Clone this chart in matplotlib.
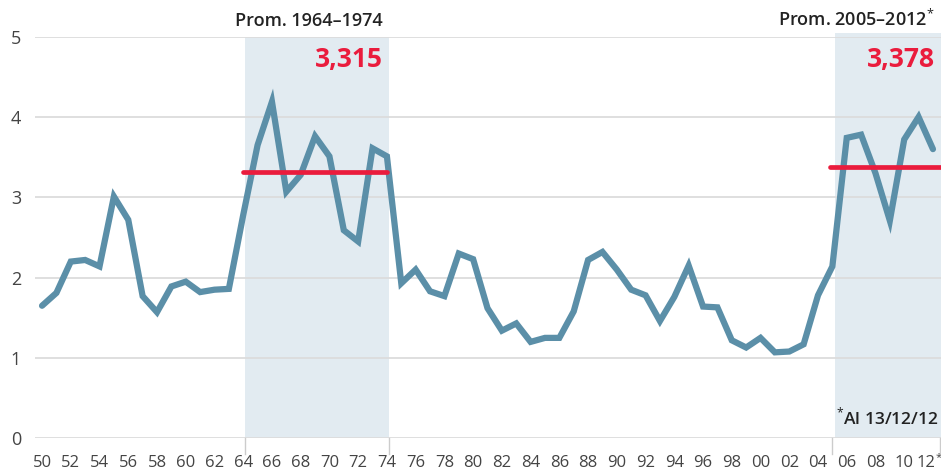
import numpy as np
import matplotlib
matplotlib.use("Agg")
import matplotlib.pyplot as plt
import matplotlib.transforms as mtransforms

plt.rcParams['font.family'] = ['Open Sans', 'DejaVu Sans']
plt.rcParams['mathtext.fontset'] = 'custom'
plt.rcParams['mathtext.rm'] = 'Open Sans'

years = list(range(1950, 2013))
values = [1.65, 1.81, 2.20, 2.22, 2.14, 3.01, 2.72, 1.77, 1.57, 1.89,
          1.95, 1.82, 1.85, 1.86, 2.78, 3.65, 4.19, 3.07, 3.28, 3.76,
          3.51, 2.59, 2.45, 3.61, 3.51, 1.93, 2.10, 1.83, 1.77, 2.30,
          2.23, 1.62, 1.34, 1.43, 1.20, 1.25, 1.25, 1.58, 2.22, 2.32,
          2.10, 1.85, 1.78, 1.46, 1.76, 2.15, 1.64, 1.63, 1.22, 1.13,
          1.25, 1.07, 1.08, 1.17, 1.78, 2.14, 3.74, 3.78, 3.30, 2.71,
          3.72, 4.00, 3.60]

period1 = (1964, 1974)
avg1 = 3.315
period2 = (2005, 2012)
avg2 = 3.378

tick_years = list(range(1950, 2013, 2))
tick_labels = [f"{y % 100:02d}" for y in tick_years]

line_color = "#5b8fa8"
red = "#ea1c3d"
shade = "#e2ebf1"

fig = plt.figure(figsize=(9.41, 4.75), dpi=100)
ax = fig.add_axes([0.0372, 0.0773, 0.9628, 0.8455])
xmin, xmax = 1949.51, 2012.56
ax.set_xlim(xmin, xmax)
ax.set_ylim(0, 5)

# zonas sombreadas
ax.axvspan(period1[0] + 0.1, period1[1] + 0.15, ymin=0, ymax=1.0, color=shade,
           lw=0, zorder=0)
ax.axvspan(period2[0] + 0.15, xmax, ymin=0, ymax=1.01, color=shade, lw=0,
           zorder=0, clip_on=False)

# rejilla
for v in range(0, 6):
    ax.axhline(v, color="#dcdcdc", lw=1.3, zorder=1)

ax.plot(years, values, color=line_color, lw=4.5, solid_capstyle='round',
        solid_joinstyle='miter', zorder=3)

ax.plot([period1[0], period1[1]], [avg1, avg1], color=red, lw=3.4,
        solid_capstyle='round', zorder=4)
ax.plot([period2[0] - 0.15, xmax], [avg2, avg2], color=red, lw=3.4,
        solid_capstyle='round', zorder=4, clip_on=False)

for s in ax.spines.values():
    s.set_visible(False)

ax.set_yticks(range(0, 6))
ax.set_yticklabels([str(v) for v in range(0, 6)])
ax.tick_params(axis='y', length=0, pad=10, labelsize=13, labelcolor="#444444")
ax.set_xticks(tick_years)
ax.set_xticklabels(tick_labels)
ax.tick_params(axis='x', length=0, pad=12, labelsize=12, labelcolor="#444444")

# la última etiqueta se alinea a la derecha para que quepa, con asterisco pequeño
last = ax.get_xticklabels()[-1]
last.set_horizontalalignment('right')
last.set_transform(last.get_transform() +
                   mtransforms.ScaledTranslation(2 / 100, 0, fig.dpi_scale_trans))
fig.text(936 / 941, 1 - 452 / 475, "*", fontsize=8, color="#444444",
         ha='left', va='top')

# marcas de periodo bajo el eje
for xb in [period1[0] + 0.1, period1[1] + 0.15, period2[0] - 0.05, xmax - 0.05]:
    ax.plot([xb, xb], [0, -0.2], color="#cccccc", lw=1, clip_on=False, zorder=2)

ax.text(period1[1] - 0.3, 5.08, "Prom. 1964–1974", ha='right', va='bottom',
        fontsize=13, fontweight='semibold', color="#222222")
ax.text(period1[1] - 0.3, 4.88, "3,315", ha='right', va='top',
        fontsize=19, fontweight='bold', color=red)
ax.text(xmax - 0.45, 5.08, "Prom. 2005–2012$^{*}$", ha='right', va='bottom',
        fontsize=13, fontweight='semibold', color="#222222")
ax.text(xmax - 0.45, 4.88, "3,378", ha='right', va='top',
        fontsize=19, fontweight='bold', color=red)
ax.text(xmax - 0.2, 0.12, "$^{*}$Al 13/12/12", ha='right', va='bottom',
        fontsize=12.5, fontweight='semibold', color="#222222")

fig.savefig("out.png", dpi=100)
